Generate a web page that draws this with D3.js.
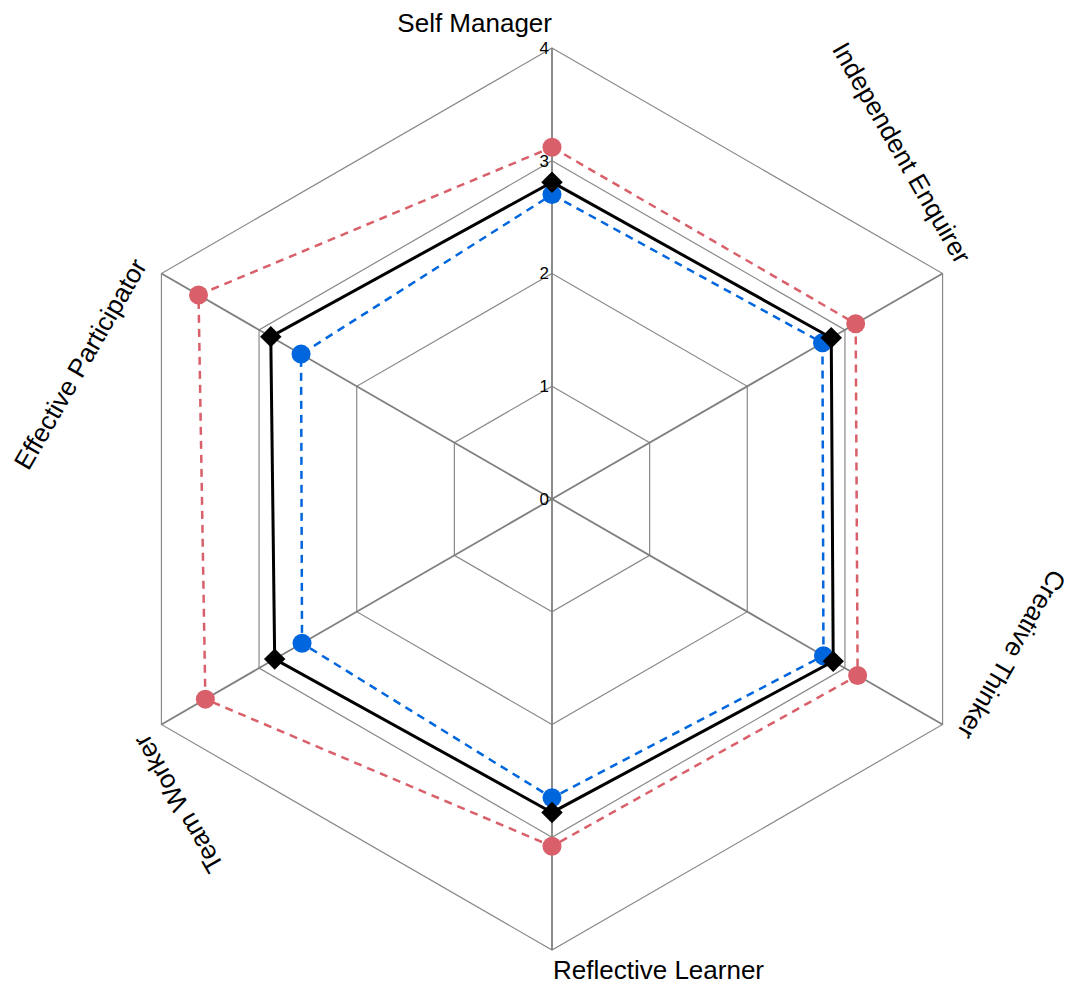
<!DOCTYPE html>
<html>
<head>
<meta charset="utf-8">
<script src="https://cdn.jsdelivr.net/npm/d3@7"></script>
<style>
  body { margin: 0; background: #fff; }
  text { font-family: "Liberation Sans", Arial, sans-serif; }
</style>
</head>
<body>
<svg></svg>
<script>
var axes = ["Self Manager", "Independent Enquirer", "Creative Thinker", "Reflective Learner", "Team Worker", "Effective Participator"];
var ticks = [0, 1, 2, 3, 4];
var redValues = [3.12, 3.11, 3.13, 3.08, 3.55, 3.62];
var blackValues = [2.81, 2.86, 2.88, 2.78, 2.84, 2.88];
var blueValues = [2.70, 2.77, 2.78, 2.65, 2.56, 2.57];

var svgWidth = 1071;
var svgHeight = 984;
var cx = 552, cy = 499;
var outer = 451;

var svg = d3.select('svg')
    .attr('width', svgWidth)
    .attr('height', svgHeight);

var g = svg.append('g').attr('transform', 'translate(' + cx + ',' + cy + ')');

var r = d3.scaleLinear().domain([0, 4]).range([0, outer]);
var angle = d3.scalePoint().domain(d3.range(axes.length + 1)).range([0, 2 * Math.PI]);

function px(i, v) { return r(v) * Math.sin(angle(i)); }
function py(i, v) { return -r(v) * Math.cos(angle(i)); }

var radial = d3.lineRadial()
    .angle(function(d, i) { return angle(i); })
    .radius(function(d) { return r(d); })
    .curve(d3.curveLinearClosed);

// grid rings
g.selectAll('.ring')
    .data(ticks.slice(1))
    .enter()
    .append('path')
    .attr('d', function(t) { return radial(axes.map(function() { return t; })); })
    .attr('fill', 'none')
    .attr('stroke', '#8a8a8a')
    .attr('stroke-width', 1.2);

// spokes
g.selectAll('.spoke')
    .data(axes)
    .enter()
    .append('line')
    .attr('x1', 0).attr('y1', 0)
    .attr('x2', function(d, i) { return px(i, 4); })
    .attr('y2', function(d, i) { return py(i, 4); })
    .attr('stroke', '#7f7f7f')
    .attr('stroke-width', 1.8);

// tick labels
g.selectAll('.tick')
    .data(ticks)
    .enter()
    .append('text')
    .attr('x', -3)
    .attr('y', function(t) { return -r(t); })
    .attr('dy', '0.35em')
    .attr('text-anchor', 'end')
    .attr('font-size', 17)
    .text(function(t) { return t; });

// axis labels
g.selectAll('.label')
    .data(axes)
    .enter()
    .append('text')
    .attr('font-size', 26)
    .attr('text-anchor', function(d, i) { return i === 3 ? 'start' : 'end'; })
    .attr('transform', function(d, i) {
        var a = angle(i) * 180 / Math.PI;
        if (i === 3) return 'translate(1,' + (outer + 29) + ')';
        var rr = outer + 16;
        return 'translate(' + (rr * Math.sin(angle(i))) + ',' + (-rr * Math.cos(angle(i))) + ') rotate(' + a + ')';
    })
    .text(function(d) { return d; });

function drawSeries(values, color, dashed, marker) {
    g.append('path')
        .attr('d', radial(values))
        .attr('fill', 'none')
        .attr('stroke', color)
        .attr('stroke-width', dashed ? 2.5 : 3)
        .attr('stroke-dasharray', dashed ? '8,6' : null);
    var pts = g.selectAll(null)
        .data(values)
        .enter();
    if (marker === 'circle') {
        pts.append('circle')
            .attr('cx', function(d, i) { return px(i, d); })
            .attr('cy', function(d, i) { return py(i, d); })
            .attr('r', 9.5)
            .attr('fill', color);
    } else {
        pts.append('path')
            .attr('d', d3.symbol().type(d3.symbolSquare).size(230))
            .attr('transform', function(d, i) {
                return 'translate(' + px(i, d) + ',' + py(i, d) + ') rotate(45)';
            })
            .attr('fill', color);
    }
}

drawSeries(redValues, '#d9606a', true, 'circle');
drawSeries(blueValues, '#0066dd', true, 'circle');
drawSeries(blackValues, '#000000', false, 'diamond');
</script>
</body>
</html>
